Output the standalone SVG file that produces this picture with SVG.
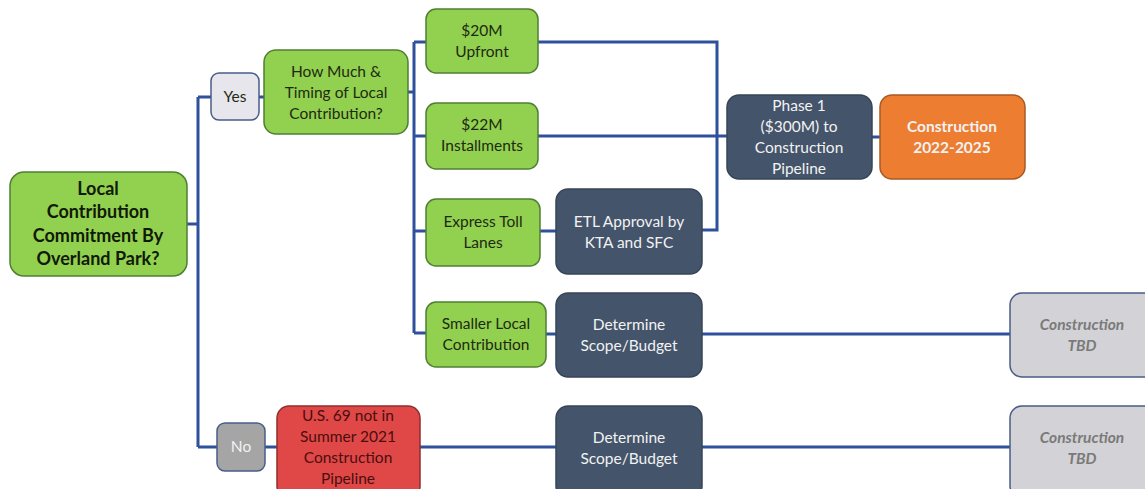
<svg xmlns="http://www.w3.org/2000/svg" width="1145" height="489" viewBox="0 0 1145 489">
<style>
.bg{fill:#ffffff}
.ln{fill:none;stroke:#2F519C;stroke-width:3}
.g{fill:#92D050;stroke:#4F7F33;stroke-width:1.5}
.n{fill:#44546A;stroke:#364457;stroke-width:1.5}
.o{fill:#ED7D31;stroke:#A65A25;stroke-width:1.5}
.r{fill:#E04848;stroke:#8E2E2E;stroke-width:1.5}
.y{fill:#E7E6EC;stroke:#4A5C88;stroke-width:1.5}
.gy{fill:#A5A5A5;stroke:#4A5C88;stroke-width:1.5}
.t{fill:#D3D2D6;stroke:#4A5C88;stroke-width:1.5}
text{font-family:Lato,"Open Sans","Liberation Sans",sans-serif;font-size:15.5px;text-anchor:middle}
.dk{fill:#1e2a10}
.wt{fill:#F2F2F2}
.rt{fill:#4A0E0E}
.bt{font-weight:bold}
.big{font-size:18px;font-weight:bold;fill:#111a08}
.tb{fill:#7a7a7a;font-weight:bold;font-style:italic}
</style>
<rect class="bg" x="0" y="0" width="1145" height="489"/>
<g id="connectors">
<path class="ln" d="M187,224 H198"/>
<path class="ln" d="M198,97 V447"/>
<path class="ln" d="M198,97 H211"/>
<path class="ln" d="M259,97 H264"/>
<path class="ln" d="M408,92 H414"/>
<path class="ln" d="M414,42 V333"/>
<path class="ln" d="M414,42 H426"/>
<path class="ln" d="M414,136 H426"/>
<path class="ln" d="M414,231 H426"/>
<path class="ln" d="M414,333 H426"/>
<path class="ln" d="M538,42 H717 V230 H702"/>
<path class="ln" d="M538,136 H727"/>
<path class="ln" d="M540,231 H556"/>
<path class="ln" d="M872,137 H880"/>
<path class="ln" d="M546,334 H556"/>
<path class="ln" d="M702,334 H1010"/>
<path class="ln" d="M198,447 H217"/>
<path class="ln" d="M265,447 H277"/>
<path class="ln" d="M420,447 H556"/>
<path class="ln" d="M702,447 H1010"/>
</g>
<g id="main">
<rect class="g" x="10" y="172" width="177" height="104" rx="14"/>
<text class="big" x="98" y="195">Local</text>
<text class="big" x="98" y="218">Contribution</text>
<text class="big" x="98" y="242">Commitment By</text>
<text class="big" x="98" y="265">Overland Park?</text>
</g>
<g id="yes">
<rect class="y" x="211" y="73" width="48" height="47" rx="8"/>
<text class="dk" x="235" y="102">Yes</text>
</g>
<g id="howmuch">
<rect class="g" x="264" y="50" width="144" height="84" rx="12"/>
<text class="dk" x="336" y="77">How Much &amp;</text>
<text class="dk" x="336" y="98">Timing of Local</text>
<text class="dk" x="336" y="119">Contribution?</text>
</g>
<g id="upfront">
<rect class="g" x="426" y="9" width="112" height="64" rx="10"/>
<text class="dk" x="482" y="36">$20M</text>
<text class="dk" x="482" y="57">Upfront</text>
</g>
<g id="installments">
<rect class="g" x="426" y="103" width="112" height="66" rx="10"/>
<text class="dk" x="482" y="130">$22M</text>
<text class="dk" x="482" y="151">Installments</text>
</g>
<g id="etl">
<rect class="g" x="426" y="199" width="114" height="67" rx="10"/>
<text class="dk" x="483" y="227">Express Toll</text>
<text class="dk" x="483" y="248">Lanes</text>
</g>
<g id="etlapproval">
<rect class="n" x="556" y="189" width="146" height="85" rx="12"/>
<text class="wt" x="629" y="227">ETL Approval by</text>
<text class="wt" x="629" y="248">KTA and SFC</text>
</g>
<g id="phase1">
<rect class="n" x="727" y="95" width="145" height="84" rx="12"/>
<text class="wt" x="799" y="111">Phase 1</text>
<text class="wt" x="799" y="132">($300M) to</text>
<text class="wt" x="799" y="153">Construction</text>
<text class="wt" x="799" y="174">Pipeline</text>
</g>
<g id="construction">
<rect class="o" x="880" y="95" width="145" height="84" rx="12"/>
<text class="wt bt" x="952" y="132">Construction</text>
<text class="wt bt" x="952" y="153">2022-2025</text>
</g>
<g id="smaller">
<rect class="g" x="426" y="302" width="120" height="65" rx="10"/>
<text class="dk" x="486" y="329">Smaller Local</text>
<text class="dk" x="486" y="350">Contribution</text>
</g>
<g id="determine1">
<rect class="n" x="556" y="293" width="146" height="84" rx="12"/>
<text class="wt" x="629" y="330">Determine</text>
<text class="wt" x="629" y="351">Scope/Budget</text>
</g>
<g id="tbd1">
<rect class="t" x="1010" y="293" width="150" height="84" rx="12"/>
<text class="tb" x="1082" y="330">Construction</text>
<text class="tb" x="1082" y="351">TBD</text>
</g>
<g id="no">
<rect class="gy" x="217" y="423" width="48" height="48" rx="8"/>
<text class="wt" x="241" y="452">No</text>
</g>
<g id="us69">
<rect class="r" x="277" y="406" width="143" height="92" rx="12"/>
<text class="rt" x="348" y="421">U.S. 69 not in</text>
<text class="rt" x="348" y="442">Summer 2021</text>
<text class="rt" x="348" y="463">Construction</text>
<text class="rt" x="348" y="484">Pipeline</text>
</g>
<g id="determine2">
<rect class="n" x="556" y="406" width="146" height="92" rx="12"/>
<text class="wt" x="629" y="443">Determine</text>
<text class="wt" x="629" y="464">Scope/Budget</text>
</g>
<g id="tbd2">
<rect class="t" x="1010" y="406" width="150" height="92" rx="12"/>
<text class="tb" x="1082" y="443">Construction</text>
<text class="tb" x="1082" y="464">TBD</text>
</g>
</svg>
